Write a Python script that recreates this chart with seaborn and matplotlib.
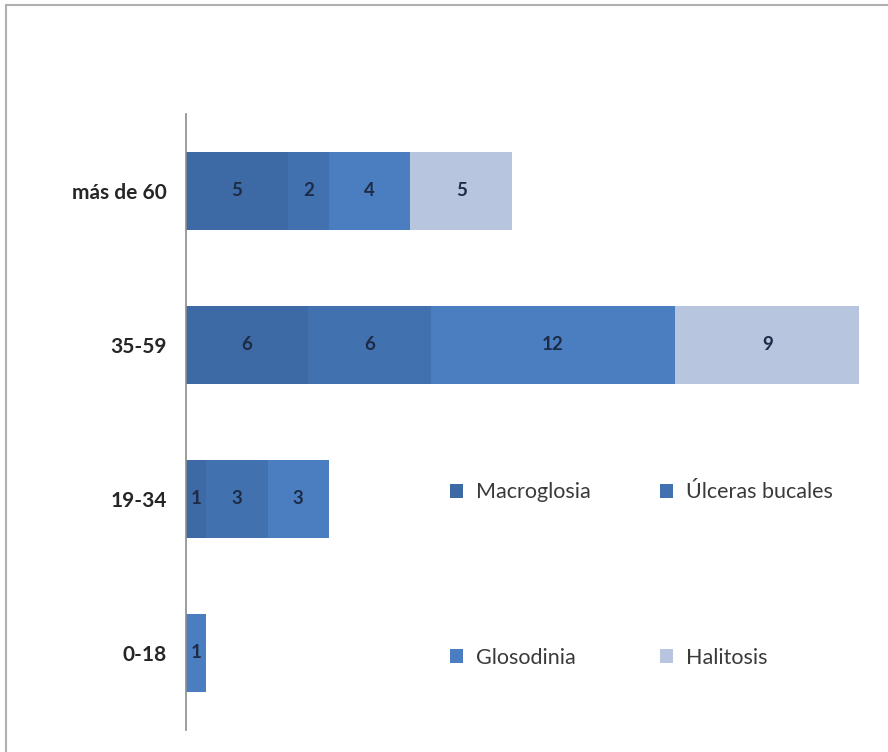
import matplotlib.pyplot as plt
import numpy as np
import pandas as pd
import seaborn as sns
from matplotlib.patches import Patch

# Data (top to bottom as shown in the chart)
grupos = ["más de 60", "35-59", "19-34", "0-18"]
series = ["Macroglosia", "Úlceras bucales", "Glosodinia", "Halitosis"]
macroglosia = [5, 6, 1, 0]
ulceras = [2, 6, 3, 0]
glosodinia = [4, 12, 3, 1]
halitosis = [5, 9, 0, 0]
colores = ["#3D6AA4", "#4271AF", "#4A7EC0", "#B7C5DE"]


def main() -> None:
    sns.set_theme(style="white")
    plt.rcParams["font.family"] = ["Lato", "DejaVu Sans"]

    df = pd.DataFrame(
        {"grupo": grupos, series[0]: macroglosia, series[1]: ulceras, series[2]: glosodinia, series[3]: halitosis}
    )
    cum = df[series].cumsum(axis=1)

    fig = plt.figure(figsize=(8.88, 7.52), dpi=100)
    ax = fig.add_axes([186 / 888, 1 - 730 / 752, (859 - 186) / 888, (730 - 114) / 752])

    # stacked bars: draw cumulative totals from the last series back to the first
    for name, color in reversed(list(zip(series, colores))):
        sns.barplot(x=cum[name], y=df["grupo"], color=color, orient="h", width=0.51, ax=ax,
                    saturation=1, linewidth=0, edgecolor="none")

    # value labels in the middle of each segment
    for i, g in enumerate(grupos):
        left = 0
        for name in series:
            v = df.loc[i, name]
            if v > 0:
                ax.text(left + v / 2, i, str(v), ha="center", va="center",
                        fontsize=13.5, fontweight="bold", color="#1E2B47")
            left += v

    ax.set_xlim(0, 33)
    ax.set_ylim(3.5, -0.5)
    ax.set_xlabel("")
    ax.set_ylabel("")
    ax.set_xticks([])
    ax.tick_params(axis="y", length=0, pad=14)
    for lbl in ax.get_yticklabels():
        lbl.set_fontweight("bold")
        lbl.set_fontsize(15)
        lbl.set_color("#262626")
    for s in ["top", "right", "bottom"]:
        ax.spines[s].set_visible(False)
    ax.spines["left"].set_color("#8C8C8C")
    ax.spines["left"].set_linewidth(1.2)

    # legend: 2 x 2 grid inside the plot area
    handles = [Patch(facecolor=c, edgecolor="none") for c in colores]
    order = [0, 2, 1, 3]
    ax.legend(
        [handles[k] for k in order],
        [series[k] for k in order],
        ncol=2,
        loc="upper left",
        bbox_to_anchor=(431 / 888, 1 - 463 / 752),
        bbox_transform=fig.transFigure,
        frameon=False,
        fontsize=15.5,
        handlelength=0.6,
        handleheight=0.6,
        handletextpad=0.6,
        columnspacing=3.2,
        labelspacing=6.75,
        labelcolor="#3A3A3A",
    )

    # outer chart border (top and left visible)
    fig.add_artist(plt.Rectangle((6 / 888, -0.05), 1.2, 1 - 5 / 752 + 0.05, transform=fig.transFigure,
                                 fill=False, edgecolor="#B0B0B0", linewidth=1.5))

    fig.savefig("out.png", dpi=100)
    plt.close(fig)


if __name__ == "__main__":
    main()
